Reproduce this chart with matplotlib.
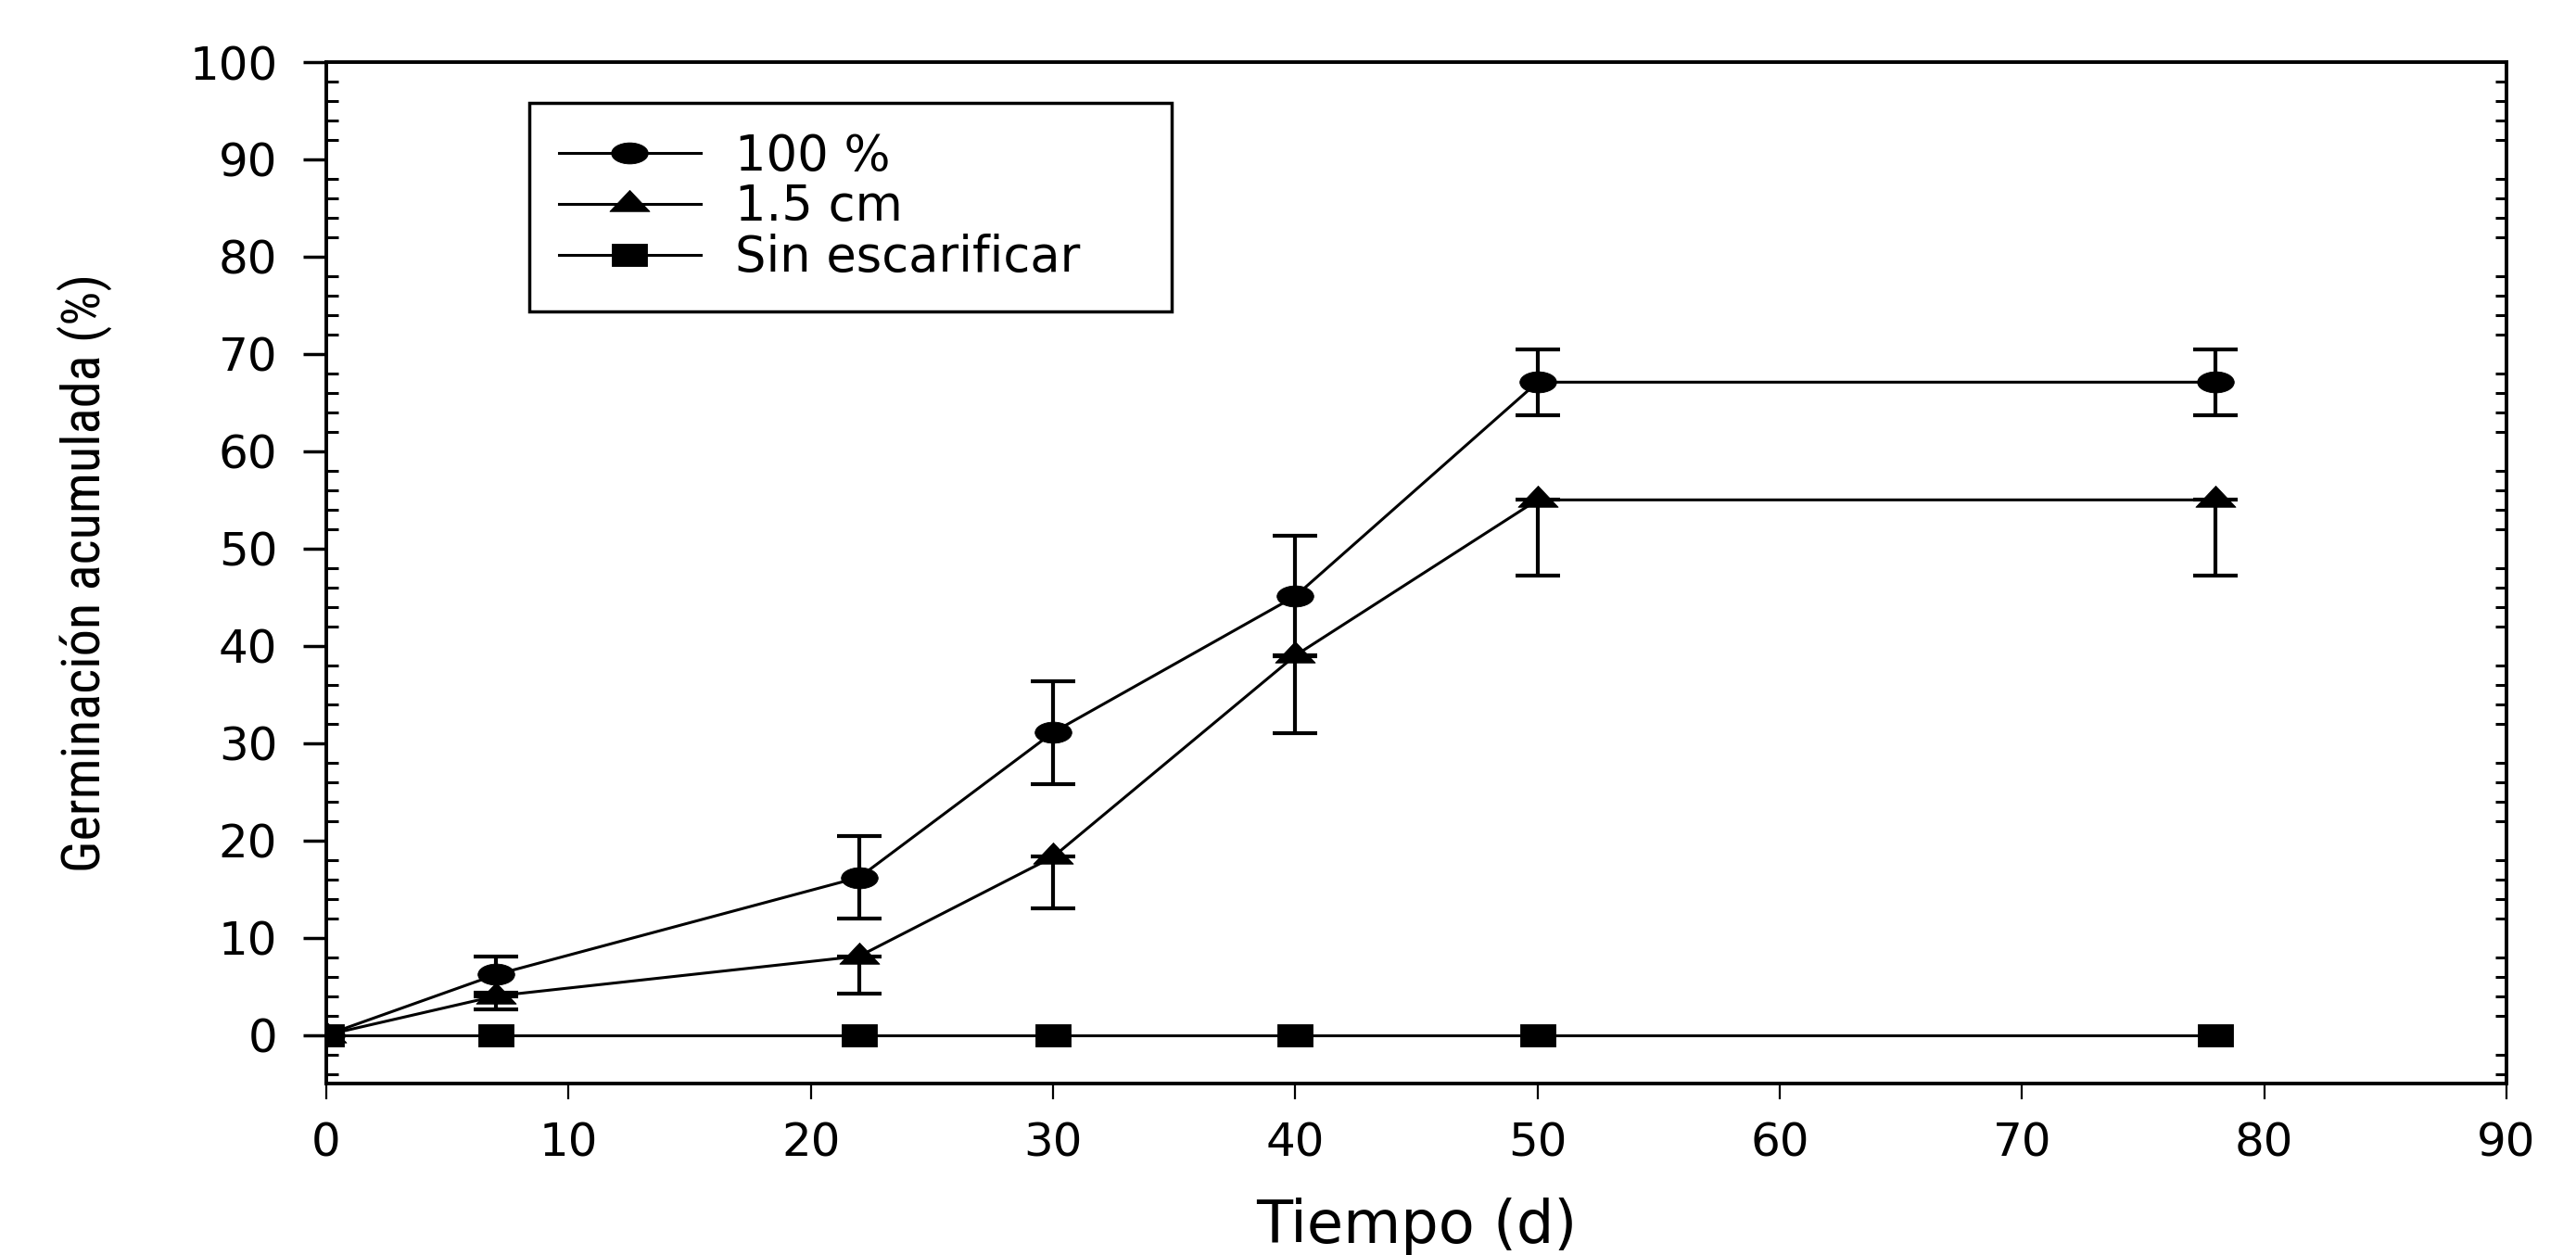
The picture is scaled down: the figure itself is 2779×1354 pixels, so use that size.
import numpy as np
import matplotlib
matplotlib.use("Agg")
import matplotlib.pyplot as plt
from matplotlib.path import Path
from matplotlib.transforms import Affine2D
from matplotlib.ticker import MultipleLocator
from matplotlib import font_manager

# ---- data ----
dias = [0, 7, 22, 30, 40, 50, 78]
germ_100 = [0, 6.2, 16.2, 31.1, 45.1, 67.1, 67.1]
err_100 = [0, 1.9, 4.2, 5.3, 6.2, 3.4, 3.4]
germ_15 = [0, 4.0, 8.1, 18.3, 39.0, 55.0, 55.0]
err_15_low = [0, 1.4, 3.9, 5.3, 8.0, 7.8, 7.8]
germ_sin = [0, 0, 0, 0, 0, 0, 0]
labels = ["100 %", "1.5 cm", "Sin escarificar"]
xticks = [0, 10, 20, 30, 40, 50, 60, 70, 80, 90]
yticks = [0, 10, 20, 30, 40, 50, 60, 70, 80, 90, 100]

# ---- stretched marker shapes (the reference is horizontally stretched) ----
m_circle = Affine2D().scale(1, 0.575).transform_path(Path.unit_circle())
m_tri = Path([(-1, -0.36), (1, -0.36), (0, 0.70), (-1, -0.36)],
             [Path.MOVETO, Path.LINETO, Path.LINETO, Path.CLOSEPOLY])
m_sq = Path([(-1, -0.64), (1, -0.64), (1, 0.64), (-1, 0.64), (-1, -0.64)],
            [Path.MOVETO, Path.LINETO, Path.LINETO, Path.LINETO, Path.CLOSEPOLY])

plt.rcParams['font.family'] = ['DejaVu Sans']


def pick_family(cands):
    for fam in cands:
        try:
            font_manager.findfont(font_manager.FontProperties(family=fam),
                                  fallback_to_default=False)
            return fam
        except Exception:
            pass
    return 'DejaVu Sans'


ylab_family = pick_family(['Liberation Sans Narrow', 'DejaVu Sans Condensed',
                           'Roboto Condensed', 'Open Sans Condensed',
                           'Liberation Sans'])

fig = plt.figure(figsize=(27.79, 13.54), dpi=100)
ax = fig.add_axes([0.1267, 0.1366, 0.8463, 0.8139])

common = dict(color='black', lw=2.2, ecolor='black', elinewidth=3.0,
              capsize=17.6, capthick=3.0, errorevery=(1, 1),
              markerfacecolor='black', markeredgecolor='black')

c1 = ax.errorbar(dias, germ_100, yerr=err_100, fmt='-', marker=m_circle,
                 ms=28.5, label=labels[0], zorder=3, **common)
c2 = ax.errorbar(dias, germ_15, yerr=[err_15_low, [0] * len(dias)], fmt='-',
                 marker=m_tri, ms=31, label=labels[1], zorder=4, **common)
c3, = ax.plot(dias, germ_sin, '-', color='black', lw=2.2, marker=m_sq, ms=28,
              markerfacecolor='black', markeredgecolor='black', mew=0.6,
              label=labels[2], zorder=5)
for c in (c1, c2):
    c[0].set_markeredgewidth(0.6)
    for cap in c[1]:
        cap.set_markeredgewidth(3.0)
        cap.set_color('black')

ax.set_xlim(0, 90)
ax.set_ylim(-5, 100)
ax.set_xticks(xticks)
ax.set_yticks(yticks)
ax.yaxis.set_minor_locator(MultipleLocator(2))

for s in ax.spines.values():
    s.set_linewidth(2.8)
    s.set_color('black')

ax.tick_params(axis='y', which='major', direction='out', length=18, width=2.5,
               left=True, right=False, labelsize=36, pad=20)
ax.tick_params(axis='y', which='minor', direction='in', length=9, width=2.2,
               left=True, right=True)
ax.tick_params(axis='x', which='major', direction='out', length=12, width=1.6,
               top=False, labelsize=36, pad=17)
ax.tick_params(axis='x', which='minor', bottom=False, top=False)

ax.set_xlabel("Tiempo (d)", fontsize=46)
ax.xaxis.set_label_coords(0.5, -0.112)
ax.set_ylabel("Germinación acumulada (%)", fontsize=40, family=ylab_family)
ax.yaxis.set_label_coords(-0.111, 0.5)
ax.yaxis.label.set_va('center')

# scale the y label so its length matches the reference (~646 px)
fig.canvas.draw()
bb = ax.yaxis.label.get_window_extent(renderer=fig.canvas.get_renderer())
ax.yaxis.label.set_fontsize(40 * 646.0 / bb.height)

leg = ax.legend(handles=[c1[0], c2[0], c3], labels=labels,
                loc='upper left', bbox_to_anchor=(0.0931, 0.762, 0.2947, 0.198),
                mode='expand', borderaxespad=0, fontsize=38, frameon=True,
                fancybox=False, shadow=False, numpoints=1, handlelength=2.9,
                handletextpad=0.7, labelspacing=0.05, borderpad=0.6)
leg.get_frame().set_edgecolor('black')
leg.get_frame().set_linewidth(2.5)
leg.get_frame().set_alpha(1)

fig.savefig("out.png", dpi=100, facecolor='white')
